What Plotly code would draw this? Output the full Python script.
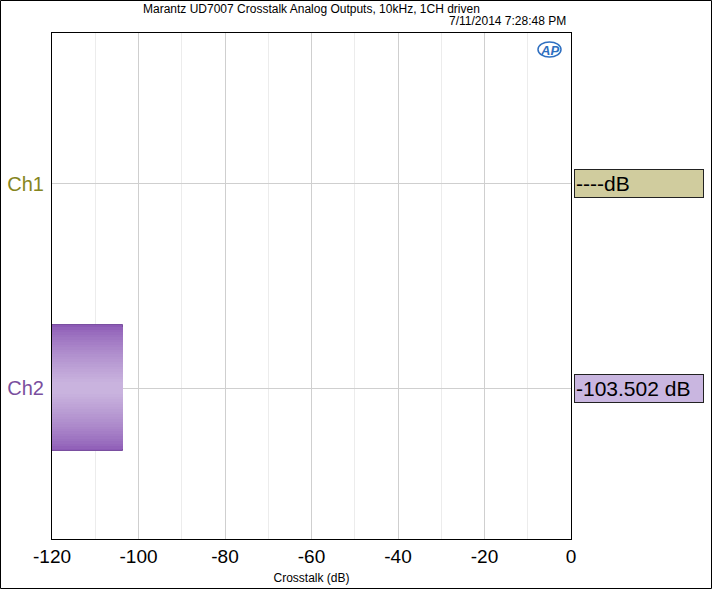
import plotly.graph_objects as go

# ---- data ----
channels = ["Ch1", "Ch2"]
channel_pos = [1, 0]
crosstalk_db = [None, -103.502]
readouts = ["----dB", "-103.502 dB"]
x_ticks = [-120, -100, -80, -60, -40, -20, 0]
x_minor = [-110, -90, -70, -50, -30, -10]
title_text = "Marantz UD7007 Crosstalk Analog Outputs, 10kHz, 1CH driven"
stamp_text = "7/11/2014 7:28:48 PM"
axis_min = -120

label_colors = ["#858520", "#7a4f9e"]
box_colors = ["#d0cc9e", "#c9b6e0"]

W, H = 712, 589
L, R, T, B = 52, 141, 33, 50
pw, ph = W - L - R, H - T - B

fig = go.Figure()

def lerp(c1, c2, t):
    return "#%02x%02x%02x" % tuple(int(round(a + (b - a) * t)) for a, b in zip(c1, c2))

dark = (0x8c, 0x5a, 0xb5)
light = (0xc9, 0xb3, 0xde)
full_w = 0.62
n = 24
for i in range(n):
    t = i / (n - 1)
    w = full_w * (1 - t * 0.9)
    ys, xs = [], []
    for p, v in zip(channel_pos, crosstalk_db):
        if v is not None:
            ys.append(p)
            xs.append(v - axis_min)
    fig.add_trace(go.Bar(
        y=ys, x=xs, base=axis_min, orientation="h", width=w,
        marker=dict(color=lerp(dark, light, t ** 0.75),
                    line=dict(color="#7a4fa0" if i == 0 else "rgba(0,0,0,0)", width=1 if i == 0 else 0)),
        showlegend=False, hoverinfo="skip"))

fig.update_layout(
    width=W, height=H, barmode="overlay", bargap=0,
    margin=dict(l=L, r=R, t=T, b=B, autoexpand=False),
    paper_bgcolor="white", plot_bgcolor="white",
    font=dict(family="Liberation Sans, Arial, sans-serif", color="black"),
    xaxis=dict(
        range=[-120, 0], tickvals=x_ticks, ticktext=[str(v) for v in x_ticks],
        tickfont=dict(size=19), showgrid=True, gridcolor="#cfcfcf", gridwidth=1,
        minor=dict(tickvals=x_minor, showgrid=True, gridcolor="#ececec", gridwidth=1),
        showline=True, linecolor="black", linewidth=1, mirror=True,
        ticks="", zeroline=False, automargin=False,
        title=dict(text="Crosstalk (dB)", font=dict(size=12,
                   family="Liberation Sans Narrow, Liberation Sans, Arial"), standoff=7),
    ),
    yaxis=dict(
        range=[-0.74, 1.74], tickvals=channel_pos,
        ticktext=['<span style="color:%s">%s</span>' % (c, s) for c, s in zip(label_colors, channels)],
        tickfont=dict(size=20), showgrid=True, gridcolor="#cfcfcf", gridwidth=1,
        showline=True, linecolor="black", linewidth=1, mirror=True,
        ticks="", zeroline=False, ticklabelstandoff=3, automargin=False,
    ),
)

# title and timestamp
fig.add_annotation(text=title_text, xref="paper", yref="paper", x=0.5, y=1 + 24 / ph,
                   xanchor="center", yanchor="middle", showarrow=False,
                   font=dict(size=12, family="Liberation Sans Narrow, Liberation Sans, Arial"))
fig.add_annotation(text=stamp_text, xref="paper", yref="paper", x=(568 - L) / pw, y=1 + 12 / ph,
                   xanchor="right", yanchor="middle", showarrow=False,
                   font=dict(size=12, family="Liberation Sans Narrow, Liberation Sans, Arial"))
# AP logo
fig.add_annotation(text="<b><i>AP</i></b>", xref="paper", yref="paper", x=(549 - L) / pw, y=1 - 17 / ph,
                   xanchor="center", yanchor="middle", showarrow=False,
                   font=dict(size=13, color="#2f6fc0", family="Liberation Sans, Arial"))
fig.add_shape(type="circle", xref="paper", yref="paper",
              x0=(538 - L) / pw, x1=(561 - L) / pw, y0=1 - 24 / ph, y1=1 - 9 / ph,
              line=dict(color="#2f6fc0", width=1.5))

# readout boxes
for p, txt, bc in zip(channel_pos, readouts, box_colors):
    fig.add_annotation(text=txt, xref="paper", yref="y", x=(574 - L) / pw, y=p,
                       xanchor="left", yanchor="middle", showarrow=False, align="left",
                       width=126, height=25, bgcolor=bc, bordercolor="#222222", borderwidth=1,
                       borderpad=1, font=dict(size=21, color="black"))

# outer image border
fig.add_shape(type="rect", xref="paper", yref="paper",
              x0=(-L + 0.5) / pw, x1=1 + (R - 0.5) / pw, y0=(-B + 0.5) / ph, y1=1 + (T - 0.5) / ph,
              line=dict(color="black", width=1))

fig.write_html("out.html", config={"displayModeBar": False},
               post_script="document.body.style.margin='0';document.body.style.overflow='hidden';")
